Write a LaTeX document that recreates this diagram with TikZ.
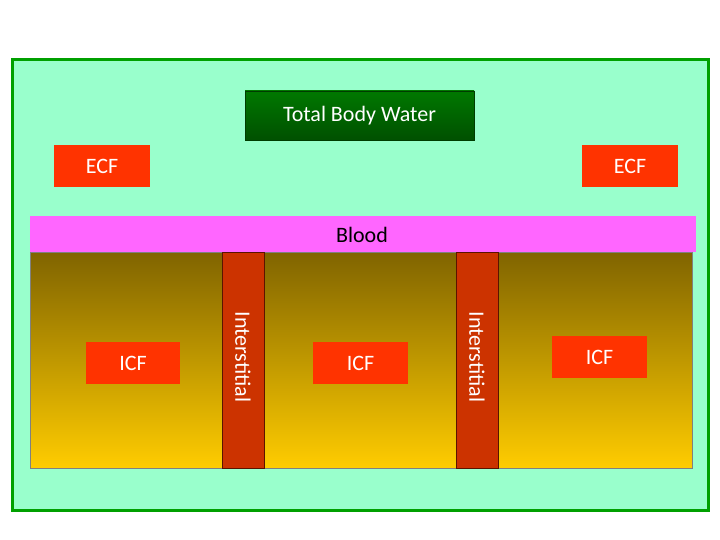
\documentclass[tikz,border=0pt]{standalone}
\usepackage{fontspec}
\setmainfont{Carlito}
\begin{document}
\begin{tikzpicture}[x=1pt,y=-1pt,
  lbl/.style={font=\fontsize{22}{24}\selectfont},
  redbox/.style={draw=none,fill=red!100!orange,fill={rgb,255:red,255;green,51;blue,0},text=white,lbl,minimum height=42pt,minimum width=96pt,inner sep=0pt},
  inter/.style={fill={rgb,255:red,204;green,51;blue,0},draw={rgb,255:red,90;green,20;blue,0},line width=0.8pt}]
\useasboundingbox (0,0) rectangle (720,540);
\fill[white] (0,0) rectangle (720,540);
\draw[fill={rgb,255:red,153;green,255;blue,204},draw={rgb,255:red,0;green,160;blue,0},line width=3pt] (12,60) rectangle (708,510);
\node[lbl,text=white,draw={rgb,255:red,0;green,60;blue,0},top color={rgb,255:red,0;green,120;blue,0},bottom color={rgb,255:red,0;green,80;blue,0},minimum width=229pt,minimum height=49pt,inner sep=0pt] (tbw) at (359.5,115.5) {Total Body Water};
\node[redbox] (ecfl) at (102,166) {ECF};
\node[redbox] (ecfr) at (630,166) {ECF};
\node[lbl,fill={rgb,255:red,255;green,102;blue,255},text=black,minimum width=666pt,minimum height=36pt,inner sep=0pt,anchor=north west,text depth=0pt] (blood) at (30,216) {};
\node[lbl] (bloodt) at (362,235) {Blood};
\shade[top color={rgb,255:red,128;green,100;blue,0},bottom color={rgb,255:red,255;green,204;blue,0},draw=gray] (30,252) rectangle (692,468);
\draw[gray] (30,252) rectangle (692,468);
\draw[inter] (222,252) rectangle (264,468);
\draw[inter] (456,252) rectangle (498,468);
\node[lbl,text=white,rotate=-90] (i1) at (243,357) {Interstitial};
\node[lbl,text=white,rotate=-90] (i2) at (477,357) {Interstitial};
\node[redbox,minimum width=94pt] (icf1) at (133,363) {ICF};
\node[redbox,minimum width=95pt] (icf2) at (360.5,363) {ICF};
\node[redbox,minimum width=95pt] (icf3) at (599.5,357) {ICF};
\end{tikzpicture}
\end{document}
